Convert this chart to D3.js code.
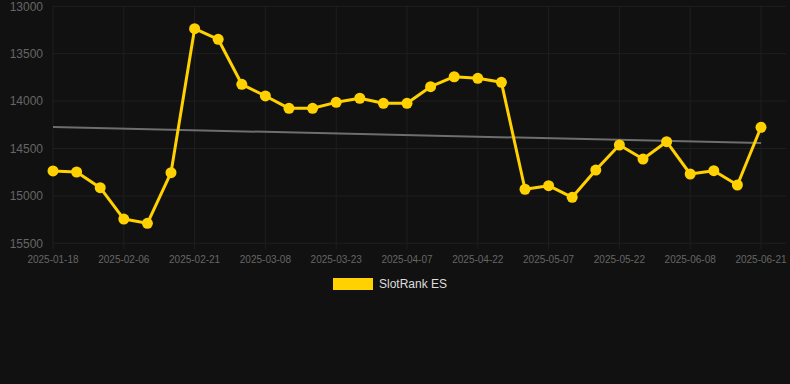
<!DOCTYPE html>
<html><head><meta charset="utf-8">
<script src="https://cdn.jsdelivr.net/npm/d3@7"></script>
<style>
html,body{margin:0;padding:0;background:#111111;}
svg{display:block;font-family:"Liberation Sans",Arial,sans-serif;}
</style></head>
<body>
<svg id="c" width="790" height="384"></svg>
<script>
const dates = ["2025-01-18","2025-01-24","2025-01-30","2025-02-06","2025-02-11","2025-02-16","2025-02-21","2025-02-26","2025-03-03","2025-03-08","2025-03-13","2025-03-18","2025-03-23","2025-03-28","2025-04-02","2025-04-07","2025-04-12","2025-04-17","2025-04-22","2025-04-27","2025-05-02","2025-05-07","2025-05-12","2025-05-17","2025-05-22","2025-05-27","2025-06-01","2025-06-08","2025-06-12","2025-06-16","2025-06-21"];
const ranks = [14737,14748,14913,15244,15289,14755,13236,13348,13823,13946,14076,14076,14013,13970,14023,14023,13848,13743,13760,13802,14930,14892,15015,14727,14463,14611,14428,14769,14734,14885,14276];
const yTicks = [13000,13500,14000,14500,15000,15500];
const seriesName = "SlotRank ES";

(function(){
const svg = d3.select("#c");
const pLeft = 53, pRight = 761, pTop = 6.3, pBottom = 243.3;
const x = d3.scalePoint().domain(dates).range([pLeft, pRight]);
const y = d3.scaleLinear().domain([13000,15500]).range([pTop, pBottom]);

// grid
const gridColor = "#1f1f1f";
svg.append("g").selectAll("line").data(yTicks).join("line")
  .attr("x1", pLeft).attr("x2", 786).attr("y1", d=>y(d)).attr("y2", d=>y(d))
  .attr("stroke", gridColor).attr("stroke-width", 1);
const labeled = dates.filter((d,i)=>i%3===0);
svg.append("g").selectAll("line").data(labeled).join("line")
  .attr("x1", d=>x(d)).attr("x2", d=>x(d)).attr("y1", pTop).attr("y2", pBottom+6)
  .attr("stroke", gridColor).attr("stroke-width", 1);

// axes labels
svg.append("g").selectAll("text").data(yTicks).join("text")
  .attr("x", 43).attr("y", d=>y(d)).attr("dy","0.35em").attr("text-anchor","end")
  .attr("fill","#666666").attr("font-size","12px").text(d=>d);
svg.append("g").selectAll("text").data(labeled).join("text")
  .attr("x", d=>x(d)).attr("y", 259).attr("dy","0.35em").attr("text-anchor","middle")
  .attr("fill","#666666").attr("font-size","10px").text(d=>d);

// trend line (least squares)
const n = ranks.length;
const xs = d3.range(n);
const mx = d3.mean(xs), my = d3.mean(ranks);
const slope = d3.sum(xs.map((xi,i)=>(xi-mx)*(ranks[i]-my))) / d3.sum(xs.map(xi=>(xi-mx)*(xi-mx)));
const icpt = my - slope*mx;
svg.append("line")
  .attr("x1", x(dates[0])).attr("x2", x(dates[n-1]))
  .attr("y1", y(icpt)).attr("y2", y(icpt + slope*(n-1)))
  .attr("stroke","#6e6e6e").attr("stroke-width",2);

// series
const line = d3.line().x((d,i)=>x(dates[i])).y(d=>y(d));
svg.append("path").datum(ranks).attr("d", line)
  .attr("fill","none").attr("stroke","#FFD100").attr("stroke-width",3).attr("stroke-linejoin","round");
svg.append("g").selectAll("circle").data(ranks).join("circle")
  .attr("cx",(d,i)=>x(dates[i])).attr("cy", d=>y(d)).attr("r",5.5).attr("fill","#FFD100");

// legend
svg.append("rect").attr("x",333).attr("y",278).attr("width",40).attr("height",12).attr("fill","#FFD100");
svg.append("text").attr("x",379).attr("y",284).attr("dy","0.35em").attr("fill","#dddddd")
  .attr("font-size","12px").text(seriesName);
})();
</script>
</body></html>
